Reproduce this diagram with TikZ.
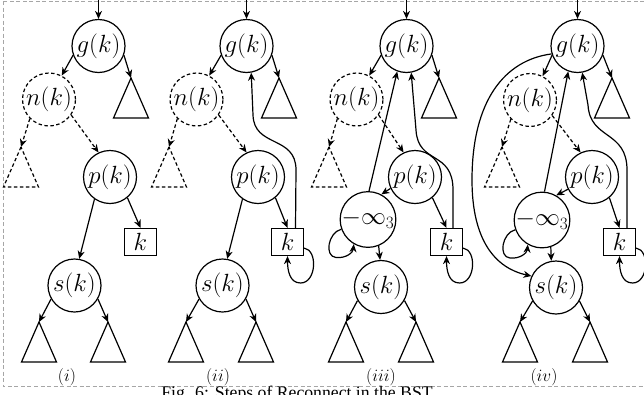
\documentclass[tikz,border=0pt]{standalone}
\usepackage{fontspec}
\newfontfamily\capfont{Liberation Serif}
\usetikzlibrary{arrows.meta,calc}

\newcommand{\vtxfont}{\fontsize{23}{27}\selectfont}
\newcommand{\panelfont}{\fontsize{19}{22}\selectfont}
% a subtree drawn as a triangle hanging from its apex
\newcommand{\subtri}[2][subtree]{\draw[#1] (#2) -- +(-17.5,40) -- +(17.5,40) -- cycle;}
% self-loop below the right side of a key box
\newcommand{\keyloop}[1]{\draw[edge] (#1.-20) .. controls ($(#1)+(30.5,8)$) and ($(#1)+(29,41)$) .. ($(#1)+(13,41)$) .. controls ($(#1)+(2,41)$) and ($(#1)+(0,28)$) .. (#1.south);}
% self-loop at the lower left of a sentinel node
\newcommand{\infloop}[1]{\draw[edge] (#1.200) .. controls ($(#1)+(-40,13)$) and ($(#1)+(-44,37)$) .. ($(#1)+(-32,38)$) .. controls ($(#1)+(-22,39)$) and ($(#1)+(-15,33)$) .. (#1.240);}

\begin{document}
\begin{tikzpicture}[x=1pt,y=-1pt,
  every node/.style={inner sep=0pt},
  vtx/.style={circle, draw, line width=1.2pt, minimum size=53pt, font=\vtxfont},
  ghost/.style={vtx, dash pattern=on 3.5pt off 2.5pt},
  keybox/.style={rectangle, draw, line width=1.2pt, minimum width=32pt, minimum height=27pt, font=\vtxfont},
  edge/.style={line width=1.2pt, -{Stealth[length=8pt,width=7pt,inset=2.5pt]}},
  ghostedge/.style={edge, dash pattern=on 3.5pt off 2.5pt},
  subtree/.style={line width=1.2pt, line join=miter},
  ghosttree/.style={subtree, dash pattern=on 3.5pt off 2.5pt},
  frame/.style={draw=black!35, dash pattern=on 4pt off 2.5pt, line width=0.8pt},
  panel/.style={font=\panelfont},
]
\useasboundingbox (0,0) rectangle (644,394);
\draw[frame] (3,1) rectangle (660,386);

% ---------------- (i) ----------------
\coordinate (in1) at (98.5,-2);
\node[vtx]    (g1) at (98.5,46)   {$g(k)$};
\node[ghost]  (n1) at (49,99.5)   {$n(k)$};
\node[vtx]    (p1) at (110,177)   {$p(k)$};
\node[keybox] (k1) at (140.5,242) {$k$};
\node[vtx]    (s1) at (74.5,285.5) {$s(k)$};
\coordinate (r1) at (131,78);
\coordinate (d1) at (21,147);
\coordinate (a1) at (39,322);
\coordinate (b1) at (108,322);
\subtri{r1} \subtri[ghosttree]{d1} \subtri{a1} \subtri{b1}
\draw[edge] (in1) -- (g1);
\draw[edge] (g1.200) -- (n1.62);
\draw[edge] (g1.-20) -- (r1);
\draw[ghostedge] (n1.225) -- (d1);
\draw[ghostedge] (n1.-35) -- (p1.115);
\draw[edge] (p1.235) -- (s1.80);
\draw[edge] (p1.-50) -- (k1.north);
\draw[edge] (s1.210) -- (a1);
\draw[edge] (s1.-30) -- (b1);
\node[panel] (l1) at (67,377) {$(i)$};

% ---------------- (ii) ----------------
\coordinate (in2) at (246.5,-2);
\node[vtx]    (g2) at (246.5,46)  {$g(k)$};
\node[ghost]  (n2) at (196.5,99.5) {$n(k)$};
\node[vtx]    (p2) at (258,177)   {$p(k)$};
\node[keybox] (k2) at (287.5,242) {$k$};
\node[vtx]    (s2) at (222.5,285.5) {$s(k)$};
\coordinate (r2) at (279,78);
\coordinate (d2) at (169,147);
\coordinate (a2) at (186,322);
\coordinate (b2) at (256,322);
\subtri{r2} \subtri[ghosttree]{d2} \subtri{a2} \subtri{b2}
\draw[edge] (in2) -- (g2);
\draw[edge] (g2.200) -- (n2.62);
\draw[edge] (g2.-20) -- (r2);
\draw[ghostedge] (n2.225) -- (d2);
\draw[ghostedge] (n2.-35) -- (p2.115);
\draw[edge] (p2.235) -- (s2.80);
\draw[edge] (p2.-50) -- (k2.north);
\draw[edge] (s2.210) -- (a2);
\draw[edge] (s2.-30) -- (b2);
\draw[edge] ([xshift=8]k2.north) -- (296,170) .. controls (296,135) and (254,148) .. (253,115) -- (g2.280);
\keyloop{k2}
\node[panel] (l2) at (218,377) {$(ii)$};

% ---------------- (iii) ----------------
\coordinate (in3) at (406.5,-2);
\node[vtx]    (g3) at (406.5,46)  {$g(k)$};
\node[ghost]  (n3) at (356.5,99.5) {$n(k)$};
\node[vtx]    (p3) at (415,177)   {$p(k)$};
\node[vtx]    (m3) at (368,219.5) {$-\infty_3$};
\node[keybox] (k3) at (446.5,242) {$k$};
\node[vtx]    (s3) at (381,287)   {$s(k)$};
\coordinate (r3) at (439,78);
\coordinate (d3) at (329,147);
\coordinate (a3) at (346,322);
\coordinate (b3) at (416,322);
\subtri{r3} \subtri[ghosttree]{d3} \subtri{a3} \subtri{b3}
\draw[edge] (in3) -- (g3);
\draw[edge] (g3.200) -- (n3.62);
\draw[edge] (g3.-20) -- (r3);
\draw[ghostedge] (n3.225) -- (d3);
\draw[ghostedge] (n3.-35) -- (p3.115);
\draw[edge] (p3.205) -- (m3.62);
\draw[edge] (m3.-68) -- (s3.92);
\draw[edge] (p3.-50) -- (k3.north);
\draw[edge] (s3.210) -- (a3);
\draw[edge] (s3.-30) -- (b3);
\draw[edge] (m3.88) -- (g3.250);
\draw[edge] ([xshift=6.5]k3.north) -- (453,190) .. controls (453,150) and (418,165) .. (416,130) -- (g3.280);
\keyloop{k3}
\infloop{m3}
\node[panel] (l3) at (381,377) {$(iii)$};

% ---------------- (iv) ----------------
\coordinate (in4) at (577.5,-2);
\node[vtx]    (g4) at (577.5,46)  {$g(k)$};
\node[ghost]  (n4) at (530,100)   {$n(k)$};
\node[vtx]    (p4) at (592,177)   {$p(k)$};
\node[vtx]    (m4) at (542,220)   {$-\infty_3$};
\node[keybox] (k4) at (619.5,242) {$k$};
\node[vtx]    (s4) at (556,287.5) {$s(k)$};
\coordinate (r4) at (612,78);
\coordinate (d4) at (502,147);
\coordinate (a4) at (520,322);
\coordinate (b4) at (590,322);
\subtri{r4} \subtri[ghosttree]{d4} \subtri{a4} \subtri{b4}
\draw[edge] (in4) -- (g4);
\draw[edge] (g4.200) -- (n4.62);
\draw[edge] (g4.-20) -- (r4);
\draw[ghostedge] (n4.225) -- (d4);
\draw[ghostedge] (n4.-35) -- (p4.115);
\draw[edge] (p4.207) -- (m4.60);
\draw[edge] (m4.-72) -- (s4.100);
\draw[edge] (p4.-50) -- (k4.north);
\draw[edge] (s4.210) -- (a4);
\draw[edge] (s4.-30) -- (b4);
\draw[edge] (m4.85) -- (g4.250);
\draw[edge] ([xshift=7.5]k4.north) -- (627,170) .. controls (627,130) and (590,140) .. (588,105) -- (g4.280);
\draw[edge] (g4.197) .. controls (505,60) and (472,100) .. (472,180) .. controls (472,240) and (495,268) .. (s4.155);
\keyloop{k4}
\infloop{m4}
\node[panel] (l4) at (544,377) {$(iv)$};

% caption, running past the lower edge
\node[font=\capfont\fontsize{17.7}{21}\selectfont, anchor=base] (cap) at (297,398) {Fig. 6: Steps of Reconnect in the BST};
\end{tikzpicture}
\end{document}
